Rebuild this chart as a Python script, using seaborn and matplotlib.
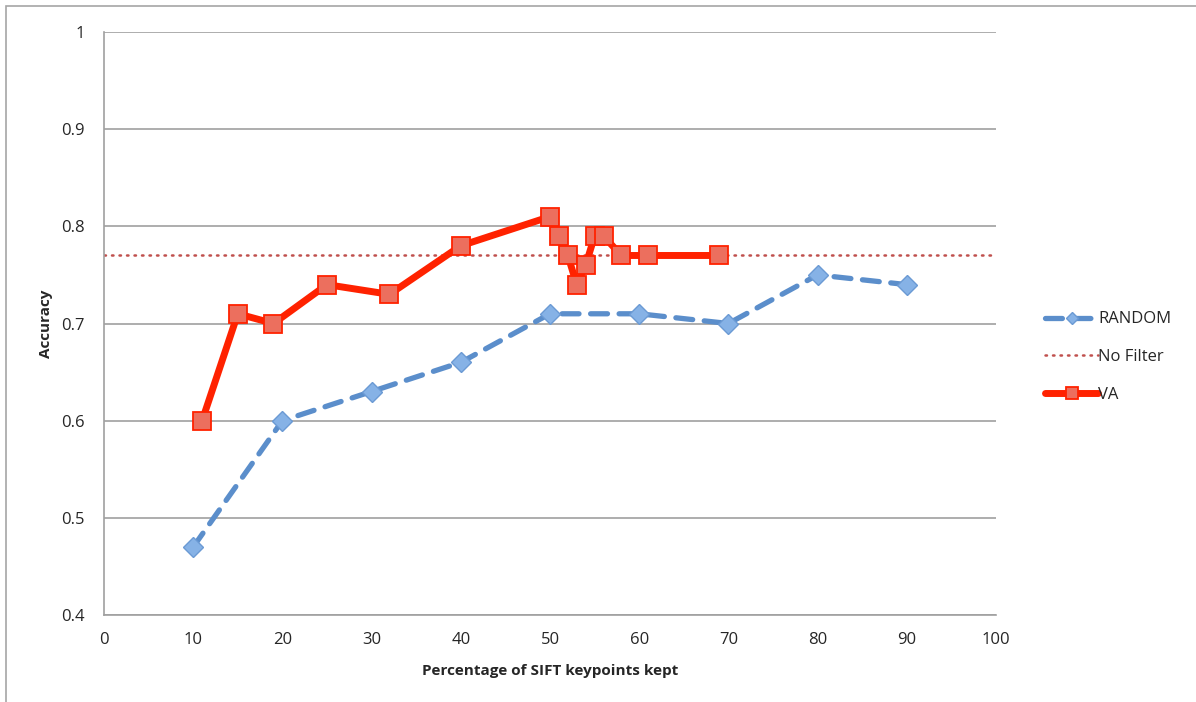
import matplotlib
matplotlib.use("Agg")
import matplotlib.pyplot as plt
import seaborn as sns
from matplotlib.patches import Rectangle

# data
random_x = [10, 20, 30, 40, 50, 60, 70, 80, 90]
random_y = [0.47, 0.60, 0.63, 0.66, 0.71, 0.71, 0.70, 0.75, 0.74]

va_x = [11, 15, 19, 25, 32, 40, 50, 51, 52, 53, 54, 55, 56, 58, 61, 69]
va_y = [0.60, 0.71, 0.70, 0.74, 0.73, 0.78, 0.81, 0.79, 0.77, 0.74, 0.76, 0.79, 0.79, 0.77, 0.77, 0.77]

nofilter_x = [0, 100]
nofilter_y = [0.77, 0.77]

sns.set_style("white")
plt.rcParams['font.family'] = ['Open Sans', 'DejaVu Sans']

fig = plt.figure(figsize=(11.96, 7.02), dpi=100)
ax = fig.add_axes([104 / 1196, 1 - 615 / 702, (996 - 104) / 1196, (615 - 32) / 702])

# outer chart frame (Excel style, cut at right/bottom)
fig.patches.append(Rectangle((6 / 1196, -0.05), 1.2, 1 - 6 / 702 + 0.05,
                             transform=fig.transFigure, fill=False,
                             edgecolor='#a6a6a6', linewidth=1.2))

sns.lineplot(x=random_x, y=random_y, ax=ax, color='#5b8ecb', linewidth=3.8,
             marker='D', markersize=10.5, markerfacecolor='#86b2e6',
             markeredgecolor='#6b9ad4', markeredgewidth=1, label='RANDOM',
             dashes=False, zorder=3)
ax.lines[-1].set_linestyle((0, (3.2, 2.2)))
ax.lines[-1].set_dash_capstyle('round')

sns.lineplot(x=nofilter_x, y=nofilter_y, ax=ax, color='#c0504d', linewidth=1.8,
             label='No Filter', zorder=2)
ax.lines[-1].set_linestyle((0, (0.6, 2.4)))
ax.lines[-1].set_dash_capstyle('round')

sns.lineplot(x=va_x, y=va_y, ax=ax, color='#ff2200', linewidth=5, sort=False,
             marker='s', markersize=13.5, markerfacecolor='#ec6f5e',
             markeredgecolor='#ff2200', markeredgewidth=1.3, label='VA', zorder=4)
ax.lines[-1].set_solid_capstyle('round')
ax.lines[-1].set_solid_joinstyle('round')

ax.set_xlim(0, 100)
ax.set_ylim(0.4, 1.0)
ax.set_xticks(range(0, 101, 10))
ax.set_yticks([0.4, 0.5, 0.6, 0.7, 0.8, 0.9, 1.0])
ax.set_yticklabels(['0.4', '0.5', '0.6', '0.7', '0.8', '0.9', '1'])
ax.yaxis.grid(True, color='#a0a0a0', linewidth=1.2)
ax.set_axisbelow(True)
for s in ['top', 'right']:
    ax.spines[s].set_visible(False)
for s in ['left', 'bottom']:
    ax.spines[s].set_color('#a0a0a0')
    ax.spines[s].set_linewidth(1.2)
ax.tick_params(axis='y', direction='out', length=6, color='#a0a0a0', labelsize=12, pad=8)
ax.tick_params(axis='x', direction='inout', length=8, color='#a0a0a0', labelsize=12, pad=8)

ax.set_xlabel('Percentage of SIFT keypoints kept', fontsize=11, fontweight='bold', labelpad=12)
ax.set_ylabel('Accuracy', fontsize=11, fontweight='bold', labelpad=6)

ax.get_legend().remove()
h, l = ax.get_legend_handles_labels()
fig.legend(h, l, loc='center left', bbox_to_anchor=(1030 / 1196, 1 - 357 / 702),
           frameon=False, fontsize=12, handlelength=3.2, labelspacing=1.3,
           handletextpad=0.0, markerscale=0.6)

fig.savefig('out.png', dpi=100)
